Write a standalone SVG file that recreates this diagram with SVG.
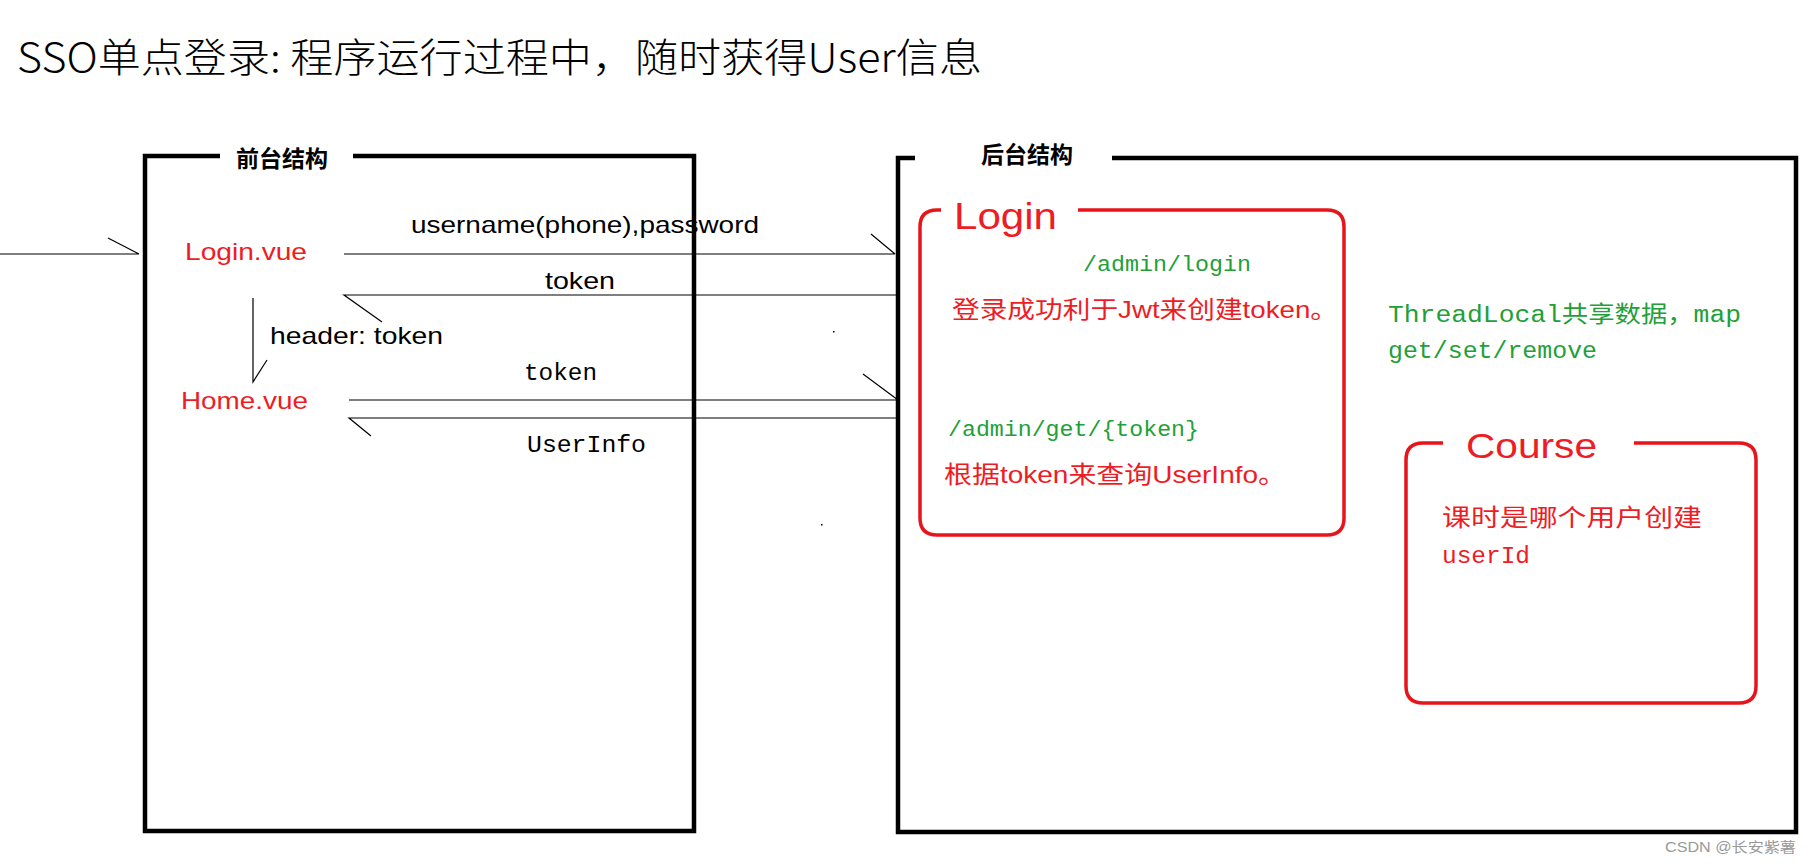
<svg xmlns="http://www.w3.org/2000/svg" width="1817" height="864" viewBox="0 0 1817 864">
<style>
.frame{fill:none;stroke:#000;stroke-width:4.5}
.rbox{fill:none;stroke:#e8141c;stroke-width:3.5}
.ln{stroke:#000;stroke-width:1.2;fill:none}
.sans{font-family:"Liberation Sans","Noto Sans CJK SC",sans-serif}
.mono{font-family:"Liberation Mono","Noto Sans CJK SC",monospace}
.red{fill:#ee1c24}
.grn{fill:#22a038}
.lbl{font-family:"Noto Sans CJK SC",sans-serif;font-weight:bold;font-size:23px}
</style>
<rect width="1817" height="864" fill="#fff"/>
<text x="17" y="72" font-family="Noto Sans CJK SC,sans-serif" font-weight="300" font-size="40" textLength="965" lengthAdjust="spacingAndGlyphs">SSO单点登录: 程序运行过程中，随时获得User信息</text>
<g id="front">
<path class="frame" d="M220,156 H145 V831 H694 V156 H353"/>
<text class="lbl" x="236" y="167">前台结构</text>
</g>
<g id="back">
<path class="frame" d="M915,158 H898 V832 H1796 V158 H1112"/>
<text class="lbl" x="981" y="163">后台结构</text>
</g>
<g id="login-vue"><text class="sans red" x="185" y="260" font-size="24" textLength="122" lengthAdjust="spacingAndGlyphs">Login.vue</text></g>
<g id="home-vue"><text class="sans red" x="181" y="409" font-size="24" textLength="127" lengthAdjust="spacingAndGlyphs">Home.vue</text></g>
<g id="login">
<path class="rbox" d="M941,210 H937 Q920,210 920,227 V518 Q920,535 937,535 H1327 Q1344,535 1344,518 V227 Q1344,210 1327,210 H1078"/>
<text class="sans red" x="954" y="229" font-size="37" textLength="103" lengthAdjust="spacingAndGlyphs">Login</text>
<text class="mono grn" x="1083" y="271" font-size="22" textLength="168" lengthAdjust="spacingAndGlyphs">/admin/login</text>
<text class="sans red" x="952" y="318" font-size="24" textLength="386" lengthAdjust="spacingAndGlyphs">登录成功利于Jwt来创建token。</text>
<text class="mono grn" x="948" y="436" font-size="22" textLength="251" lengthAdjust="spacingAndGlyphs">/admin/get/{token}</text>
<text class="sans red" x="944" y="483" font-size="24" textLength="342" lengthAdjust="spacingAndGlyphs">根据token来查询UserInfo。</text>
</g>
<g id="threadlocal">
<text class="mono grn" x="1388" y="322" font-size="23" textLength="353" lengthAdjust="spacingAndGlyphs">ThreadLocal共享数据，map</text>
<text class="mono grn" x="1388" y="358" font-size="23" textLength="209" lengthAdjust="spacingAndGlyphs">get/set/remove</text>
</g>
<g id="course">
<path class="rbox" d="M1443,443 H1423 Q1406,443 1406,460 V686 Q1406,703 1423,703 H1739 Q1756,703 1756,686 V460 Q1756,443 1739,443 H1634"/>
<text x="1466" y="458" font-family="Liberation Sans,sans-serif" font-size="35" class="red" textLength="131" lengthAdjust="spacingAndGlyphs">Course</text>
<text class="mono red" x="1442" y="526" font-size="24" textLength="260" lengthAdjust="spacingAndGlyphs">课时是哪个用户创建</text>
<text class="mono red" x="1442" y="563" font-size="24" textLength="88" lengthAdjust="spacingAndGlyphs">userId</text>
</g>
<g id="connectors">
<path class="ln" d="M0,254 H139 M108,238 L139,254"/>
<path class="ln" d="M344,254 H895 M871,234 L895,254"/>
<path class="ln" d="M898,295 H344 L382,322"/>
<path class="ln" d="M253,298 V382 L267,360"/>
<path class="ln" d="M349,400 H898 M863,374 L898,400"/>
<path class="ln" d="M898,418 H349 L371,436"/>
<rect x="833" y="331" width="1.5" height="1.5"/>
<rect x="821" y="524" width="1.5" height="1.5"/>
</g>
<g id="labels">
<text class="sans" x="411" y="233" font-size="24" textLength="348" lengthAdjust="spacingAndGlyphs">username(phone),password</text>
<text class="sans" x="545" y="289" font-size="24" textLength="70" lengthAdjust="spacingAndGlyphs">token</text>
<text class="sans" x="270" y="344" font-size="24" textLength="173" lengthAdjust="spacingAndGlyphs">header: token</text>
<text class="mono" x="524" y="380" font-size="24" textLength="73" lengthAdjust="spacingAndGlyphs">token</text>
<text class="mono" x="527" y="452" font-size="24" textLength="119" lengthAdjust="spacingAndGlyphs">UserInfo</text>
</g>
<text x="1665" y="852" class="sans" font-size="14" fill="#999" textLength="131" lengthAdjust="spacingAndGlyphs">CSDN @长安紫薯</text>
</svg>
